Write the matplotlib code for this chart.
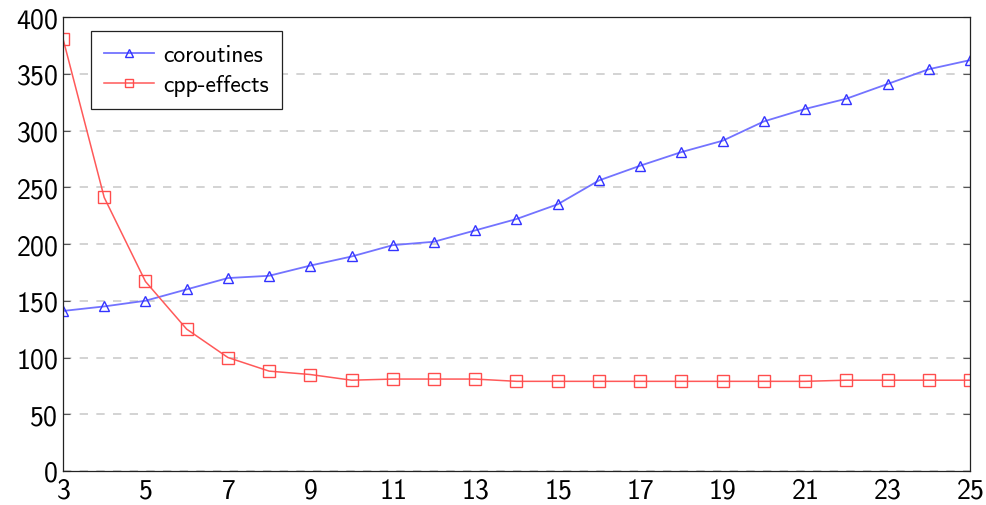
import matplotlib.pyplot as plt

plt.rcParams['font.family'] = ['cmss10', 'DejaVu Sans']
plt.rcParams['axes.formatter.use_mathtext'] = True

sizes = list(range(3, 26))
coroutines = [141, 145, 150, 160, 170, 172, 181, 189, 199, 202, 212, 222,
              235, 256, 269, 281, 291, 308, 319, 328, 341, 354, 362]
cpp_effects = [381, 241, 167, 125, 100, 88, 85, 80, 81, 81, 81, 79,
               79, 79, 79, 79, 79, 79, 79, 80, 80, 80, 80]

fig = plt.figure(figsize=(9.87, 5.06), dpi=100)
ax = fig.add_axes([0.0638, 0.0672, 0.919, 0.8972])

ax.plot(sizes, coroutines, color=(0.45, 0.45, 1.0), lw=1.3, marker='^',
        ms=7, mfc='none', mec=(0.2, 0.2, 1.0), mew=1.0, label='coroutines')
ax.plot(sizes, cpp_effects, color=(1.0, 0.35, 0.35), lw=1.1, marker='s',
        ms=8, mfc='none', mec=(1.0, 0.3, 0.3), mew=1.0, label='cpp-effects')

ax.set_xlim(3, 25)
ax.set_ylim(0, 400)
ax.set_xticks(range(3, 26, 2))
ax.set_yticks(range(0, 401, 50))
ax.yaxis.grid(True, ls=(0, (5, 5)), color='#cccccc', lw=1.2)
ax.set_axisbelow(True)
ax.tick_params(axis='y', direction='in', labelsize=20, length=5,
               color='#555555', right=True)
ax.tick_params(axis='x', length=0, labelsize=20, pad=5)
for s in ax.spines.values():
    s.set_linewidth(0.9)
    s.set_color('#222222')

leg = ax.legend(loc='upper left', bbox_to_anchor=(0.031, 0.969),
                borderaxespad=0, fontsize=17, fancybox=False,
                edgecolor='#222222', framealpha=1, borderpad=0.55,
                handlelength=2.1, handletextpad=0.4, labelspacing=0.35,
                markerscale=0.8)
leg.get_frame().set_linewidth(0.9)

fig.savefig('out.png')
